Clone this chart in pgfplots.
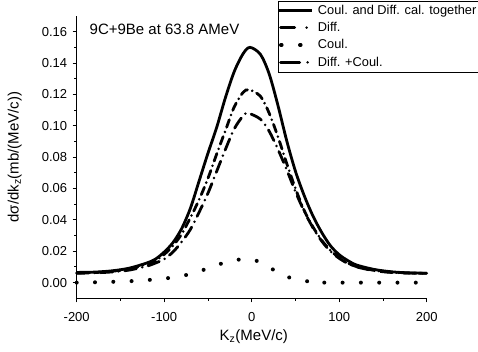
\documentclass[border=0pt]{standalone}
\usepackage{fontspec}
\setmainfont{Liberation Sans}
\usepackage{pgfplots}
\pgfplotsset{compat=1.18}

\begin{document}
\begin{tikzpicture}
\begin{axis}[
  scale only axis,
  width=350pt, height=282.3pt,
  xmin=-200, xmax=200, ymin=-0.01, ymax=0.17,
  axis lines=left, axis line style={-, line width=0.9pt},
  tick align=outside,
  major tick length=4pt, minor tick length=2.5pt,
  every tick/.style={line width=0.9pt, black},
  xtick={-200,-100,0,100,200}, minor x tick num=1,
  ytick={0,0.02,0.04,0.06,0.08,0.10,0.12,0.14,0.16}, minor y tick num=1,
  /pgf/number format/assume math mode=true,
  yticklabel style={/pgf/number format/fixed, /pgf/number format/fixed zerofill, /pgf/number format/precision=2, xshift=-2pt},
  xticklabel style={yshift=-7pt},
  scaled y ticks=false,
  tick label style={font=\fontsize{13}{15}\selectfont},
  xlabel={K\textsubscript{z}(MeV/c)},
  ylabel={dσ/dk\textsubscript{z}(mb/(MeV/c))},
  label style={font=\fontsize{15}{17}\selectfont},
  xlabel style={at={(axis description cs:0.506,-0.136)}, anchor=center},
  ylabel style={at={(axis description cs:-0.177,0.5)}, anchor=center, rotate=0},
  legend style={at={(axis description cs:0.574,1.0545)}, anchor=north west,
    draw=black, inner xsep=0pt, inner ysep=2pt,
    row sep=2.6pt, column sep=2pt,
    font=\fontsize{12.8}{14}\selectfont, cells={anchor=west}},
  clip=false,
]
\addplot[black, line width=2.8pt, smooth, tension=0.5,
  legend image code/.code={\draw[black, line width=2.8pt] (0pt,0pt) -- (33pt,0pt);}] coordinates {
(-200,0.0065) (-180,0.0067) (-160,0.0075) (-140,0.0092) (-120,0.0125) (-110,0.0150)
(-100,0.0195) (-90,0.0255) (-80,0.0345) (-70,0.0475) (-60,0.0650) (-50,0.0825)
(-40,0.0990) (-30,0.1180) (-20,0.1345) (-10,0.1458) (-2,0.1500)
(10,0.1455) (20,0.1330) (30,0.1130) (40,0.0905) (50,0.0710) (60,0.0555)
(70,0.0425) (80,0.0320) (90,0.0235) (100,0.0178) (110,0.0140) (120,0.0112)
(140,0.0084) (160,0.0069) (180,0.0062) (200,0.0060)};
\addlegendentry{Coul. and Diff. cal. together}

\addplot[black, line width=2.8pt, smooth, tension=0.5, line cap=round,
  dash pattern=on 12pt off 6pt on 0pt off 6pt,
  legend image code/.code={\draw[black, line width=2.8pt, line cap=round, dash pattern=on 14pt off 12pt on 0pt off 20pt] (1.4pt,0pt) -- (33pt,0pt);}] coordinates {
(-200,0.0060) (-180,0.0062) (-160,0.0068) (-140,0.0080) (-120,0.0105) (-110,0.0125)
(-100,0.0150) (-90,0.0195) (-80,0.0260) (-70,0.0340) (-60,0.0450) (-50,0.0570)
(-40,0.0710) (-30,0.0850) (-20,0.0980) (-10,0.1062) (-4,0.1080)
(10,0.1042) (20,0.0965) (30,0.0850) (40,0.0720) (50,0.0580) (60,0.0455)
(70,0.0350) (80,0.0265) (90,0.0200) (100,0.0155) (110,0.0122) (120,0.0100)
(140,0.0076) (160,0.0065) (180,0.0061) (200,0.0060)};
\addlegendentry{Diff.}

\addplot[black, line width=4pt, smooth, tension=0.5, line cap=round,
  dash pattern=on 0pt off 18.3pt,
  legend image code/.code={\draw[black, line width=3.5pt, line cap=round, dash pattern=on 1pt off 18pt] (1.6pt,0pt) -- (33pt,0pt);}] coordinates {
(-200,0.0000) (-180,0.0002) (-160,0.0005) (-140,0.0009) (-120,0.0016) (-100,0.0026)
(-80,0.0042) (-60,0.0072) (-40,0.0112) (-30,0.0128) (-20,0.0142) (-10,0.0150)
(-5,0.0151) (0,0.0148) (10,0.0130) (20,0.0098) (30,0.0065) (40,0.0038)
(50,0.0022) (60,0.0011) (70,0.0005) (80,0.0002) (90,0.0000) (200,0.0000)};
\addlegendentry{Coul.}

\addplot[black, line width=2.8pt, smooth, tension=0.5, line cap=round,
  dash pattern=on 8pt off 5pt on 0pt off 5pt,
  legend image code/.code={\draw[black, line width=2.8pt, line cap=round, dash pattern=on 19pt off 8pt on 0pt off 20pt] (1.4pt,0pt) -- (33pt,0pt);}] coordinates {
(-200,0.0062) (-180,0.0064) (-160,0.0072) (-140,0.0088) (-120,0.0118) (-110,0.0140)
(-100,0.0180) (-90,0.0235) (-80,0.0310) (-70,0.0415) (-60,0.0530) (-50,0.0665)
(-40,0.0820) (-30,0.0970) (-20,0.1120) (-10,0.1212) (-3,0.1230)
(10,0.1188) (20,0.1080) (30,0.0930) (40,0.0760) (50,0.0600) (60,0.0460)
(70,0.0355) (80,0.0270) (90,0.0205) (100,0.0160) (110,0.0125) (120,0.0102)
(140,0.0078) (160,0.0066) (180,0.0061) (200,0.0060)};
\addlegendentry{Diff. +Coul.}

\node[anchor=base west, font=\fontsize{15}{17}\selectfont] at (rel axis cs:0.027,0.936) {9C+9Be at 63.8 AMeV};
\end{axis}
\pgfresetboundingbox
\path[use as bounding box] ([xshift=-76.7pt,yshift=-52.7pt]current axis.south west) rectangle ([xshift=51.3pt,yshift=16pt]current axis.north east);
\end{tikzpicture}
\end{document}
